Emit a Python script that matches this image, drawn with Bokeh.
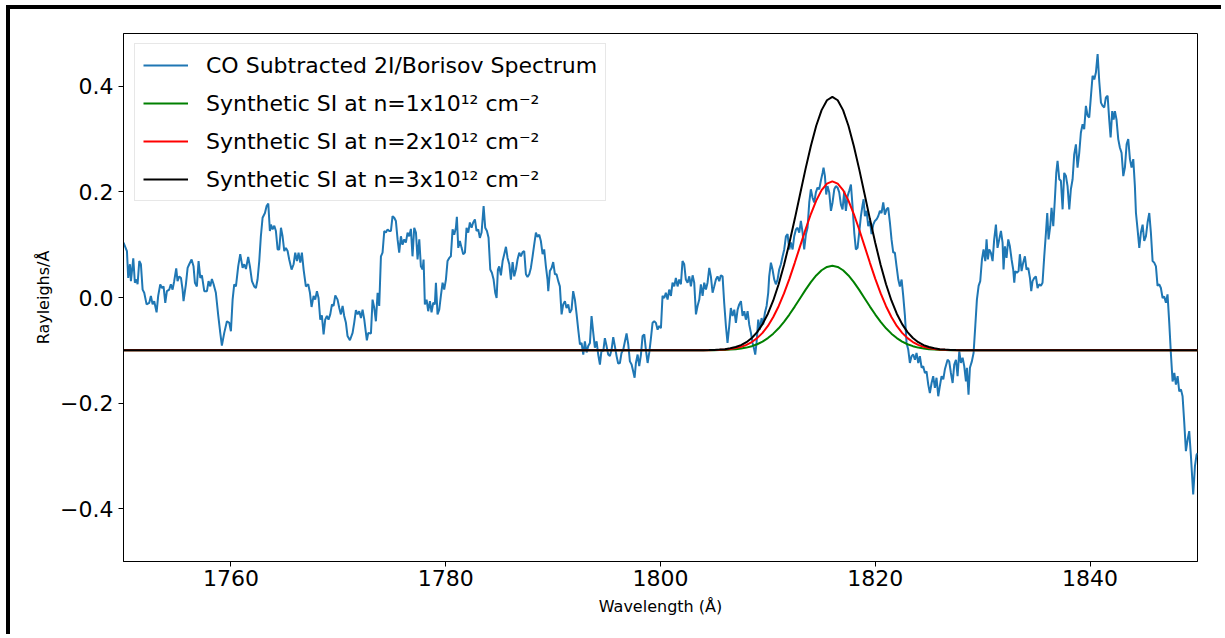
from bokeh.plotting import figure
from bokeh.embed import file_html
from bokeh.resources import INLINE
from bokeh.models import FixedTicker, CustomJSTickFormatter, Legend, LegendItem

# ---------------- data ----------------
wavelength = [
    1750.00, 1750.32, 1750.44, 1750.60, 1750.69, 1750.91, 1751.06, 1751.22, 1751.31, 1751.47,
    1751.62, 1751.78, 1751.93, 1752.15, 1752.40, 1752.55, 1752.71, 1752.86, 1753.08, 1753.23,
    1753.42, 1753.58, 1753.73, 1753.89, 1754.04, 1754.26, 1754.41, 1754.57, 1754.72, 1754.91,
    1755.03, 1755.19, 1755.35, 1755.50, 1755.59, 1755.81, 1755.97, 1756.12, 1756.34, 1756.52,
    1756.65, 1756.83, 1756.99, 1757.15, 1757.30, 1757.52, 1757.77, 1757.92, 1758.08, 1758.23,
    1758.39, 1758.60, 1758.82, 1759.01, 1759.16, 1759.38, 1759.63, 1759.85, 1760.00, 1760.16,
    1760.31, 1760.47, 1760.68, 1760.87, 1761.09, 1761.24, 1761.40, 1761.61, 1761.77, 1761.96,
    1762.17, 1762.33, 1762.48, 1762.64, 1762.79, 1762.95, 1763.17, 1763.32, 1763.48, 1763.63,
    1763.73, 1763.88, 1764.04, 1764.19, 1764.35, 1764.50, 1764.66, 1764.81, 1764.97, 1765.12,
    1765.28, 1765.43, 1765.65, 1765.84, 1765.99, 1766.15, 1766.30, 1766.46, 1766.61, 1766.77,
    1766.98, 1767.20, 1767.36, 1767.51, 1767.70, 1767.85, 1768.01, 1768.16, 1768.32, 1768.47,
    1768.63, 1768.78, 1768.94, 1769.09, 1769.25, 1769.41, 1769.56, 1769.72, 1769.93, 1770.09,
    1770.24, 1770.40, 1770.55, 1770.71, 1770.86, 1771.08, 1771.33, 1771.48, 1771.64, 1771.80,
    1771.95, 1772.11, 1772.26, 1772.42, 1772.57, 1772.66, 1772.79, 1773.04, 1773.19, 1773.35,
    1773.50, 1773.66, 1773.81, 1773.97, 1774.12, 1774.28, 1774.43, 1774.59, 1774.74, 1774.90,
    1775.05, 1775.21,
    1775.36, 1775.52, 1775.67, 1775.83, 1775.98, 1776.14, 1776.29, 1776.45, 1776.60, 1776.76,
    1776.91, 1777.07, 1777.23, 1777.38, 1777.54, 1777.69, 1777.85, 1777.94, 1778.06, 1778.22,
    1778.37, 1778.53, 1778.68, 1778.84, 1778.99, 1779.09, 1779.24, 1779.40, 1779.55, 1779.71,
    1779.86, 1780.02, 1780.17, 1780.33, 1780.48, 1780.64, 1780.79, 1780.95, 1781.04, 1781.17,
    1781.32, 1781.48, 1781.63, 1781.79, 1781.94, 1782.10, 1782.25, 1782.41, 1782.56, 1782.72,
    1782.87, 1783.03, 1783.18, 1783.34, 1783.53, 1783.68, 1783.84, 1783.99, 1784.15, 1784.30,
    1784.46, 1784.61, 1784.74, 1784.86, 1784.98, 1785.14, 1785.30, 1785.45, 1785.61, 1785.76,
    1785.92, 1786.07, 1786.23, 1786.38, 1786.54, 1786.69, 1786.85, 1787.00, 1787.16, 1787.31,
    1787.47, 1787.62, 1787.78, 1787.93, 1788.09, 1788.24, 1788.40, 1788.55, 1788.71, 1788.86,
    1789.02, 1789.17, 1789.33, 1789.48, 1789.55, 1789.70, 1789.86, 1790.01, 1790.17, 1790.32,
    1790.48, 1790.63, 1790.79, 1790.94, 1791.10, 1791.25, 1791.41, 1791.56, 1791.72, 1791.87,
    1792.03, 1792.19, 1792.34, 1792.50, 1792.65, 1792.81, 1792.96, 1793.12, 1793.27, 1793.43,
    1793.58, 1793.74, 1793.89, 1794.05, 1794.20, 1794.36, 1794.51, 1794.67, 1794.82, 1794.98,
    1795.13, 1795.29, 1795.44, 1795.60, 1795.75, 1795.91, 1796.06, 1796.22, 1796.37, 1796.53,
    1796.69, 1796.84, 1797.00, 1797.15, 1797.31, 1797.46, 1797.59, 1797.71, 1797.87, 1798.02,
    1798.18, 1798.33, 1798.49, 1798.64, 1798.80, 1798.95, 1799.11, 1799.26, 1799.42, 1799.57,
    1799.73, 1799.88, 1800.04, 1800.19, 1800.35, 1800.50, 1800.66, 1800.81, 1800.97,
    1801.12, 1801.28, 1801.43, 1801.59, 1801.74, 1801.90, 1802.05, 1802.21, 1802.36, 1802.52,
    1802.68, 1802.83, 1802.99, 1803.14, 1803.30, 1803.45, 1803.61, 1803.76, 1803.92, 1804.07,
    1804.23, 1804.38, 1804.54, 1804.69, 1804.85, 1805.00, 1805.16, 1805.31, 1805.47, 1805.62,
    1805.78, 1805.93, 1806.09, 1806.24, 1806.40, 1806.55, 1806.71, 1806.87, 1807.02, 1807.18,
    1807.33, 1807.49, 1807.64, 1807.80, 1807.95, 1808.11, 1808.26, 1808.42, 1808.57, 1808.73,
    1808.82, 1808.94, 1809.10, 1809.25, 1809.41, 1809.56, 1809.72, 1809.88, 1810.03, 1810.12,
    1810.28, 1810.43, 1810.59, 1810.74, 1810.90, 1811.05, 1811.21, 1811.37, 1811.52, 1811.68,
    1811.83, 1811.99, 1812.14, 1812.30, 1812.45, 1812.61, 1812.76, 1812.92, 1813.07, 1813.23,
    1813.38, 1813.54, 1813.69, 1813.85, 1814.00, 1814.16, 1814.31, 1814.47, 1814.62, 1814.78,
    1814.93, 1815.09, 1815.18, 1815.31, 1815.43, 1815.55, 1815.71, 1815.87, 1816.02, 1816.18,
    1816.33, 1816.49, 1816.64, 1816.80, 1816.95, 1817.11, 1817.26, 1817.42, 1817.57, 1817.73,
    1817.88, 1818.04, 1818.19, 1818.35, 1818.50, 1818.66, 1818.82, 1818.91, 1819.03, 1819.19,
    1819.34, 1819.50, 1819.65, 1819.81, 1819.96, 1820.12, 1820.27, 1820.43, 1820.58, 1820.74,
    1820.89, 1821.05, 1821.20, 1821.36, 1821.51, 1821.67, 1821.82, 1821.98, 1822.14, 1822.29,
    1822.45, 1822.60, 1822.76, 1822.91, 1823.07, 1823.22, 1823.38, 1823.53, 1823.69, 1823.84,
    1824.00, 1824.15, 1824.31, 1824.46, 1824.62, 1824.77, 1824.93, 1825.08, 1825.24, 1825.39,
    1825.55, 1825.70, 1825.86, 1826.01, 1826.17, 1826.33, 1826.48,
    1826.73, 1826.88, 1827.04, 1827.20, 1827.35, 1827.51, 1827.66, 1827.82, 1827.97, 1828.13,
    1828.28, 1828.44, 1828.53, 1828.68, 1828.81, 1828.99, 1829.15, 1829.31, 1829.46, 1829.62,
    1829.77, 1829.93, 1830.08, 1830.24, 1830.36, 1830.48, 1830.61, 1830.76, 1830.92, 1831.07,
    1831.23, 1831.38, 1831.54, 1831.70, 1831.85, 1831.94, 1832.07, 1832.22, 1832.38, 1832.53,
    1832.69, 1832.84, 1832.94, 1833.03, 1833.18, 1833.34, 1833.46, 1833.62, 1833.77, 1833.93,
    1834.08, 1834.24, 1834.40, 1834.52, 1834.64, 1834.80, 1834.95, 1835.11, 1835.26, 1835.42,
    1835.57, 1835.73, 1835.89, 1836.01, 1836.13, 1836.29, 1836.41, 1836.57, 1836.72, 1836.85,
    1836.97, 1837.13, 1837.28, 1837.44, 1837.59, 1837.75, 1837.90, 1838.06, 1838.21, 1838.37,
    1838.52, 1838.68, 1838.83, 1838.99, 1839.14, 1839.30, 1839.45, 1839.61, 1839.77, 1839.92,
    1840.08, 1840.23, 1840.39, 1840.54, 1840.70, 1840.85, 1841.01, 1841.16, 1841.32, 1841.47,
    1841.63, 1841.78, 1841.91, 1842.06, 1842.19, 1842.31, 1842.46, 1842.62, 1842.77, 1842.93,
    1843.09, 1843.24, 1843.40, 1843.55, 1843.71, 1843.86, 1844.02, 1844.17, 1844.27, 1844.42,
    1844.58, 1844.73, 1844.89, 1845.04, 1845.20, 1845.35, 1845.51, 1845.66, 1845.82, 1845.97,
    1846.13, 1846.28, 1846.44, 1846.59, 1846.75, 1846.90, 1847.06, 1847.21, 1847.37, 1847.52,
    1847.68, 1847.84, 1847.99, 1848.15, 1848.30, 1848.46, 1848.61, 1848.77, 1848.92, 1849.08,
    1849.23, 1849.39, 1849.48, 1849.60, 1849.76, 1849.91, 1850.01,
]

spectrum = [
    0.104, 0.088, 0.037, 0.063, 0.031, 0.074, 0.028, 0.034, 0.025, 0.069,
    0.063, 0.015, 0.009, -0.013, -0.010, 0.003, -0.013, -0.007, -0.028, 0.003,
    0.025, 0.018, 0.021, -0.010, 0.012, 0.015, 0.025, 0.015, 0.031, 0.055,
    0.031, 0.040, 0.037, 0.015, -0.007, 0.025, 0.056, 0.063, 0.072, 0.059,
    0.028, 0.021, 0.069, 0.037, 0.042, 0.012, 0.012, 0.031, 0.021, 0.035,
    0.025, 0.009, -0.034, -0.067, -0.091, -0.067, -0.045, -0.048, -0.064, -0.004,
    0.025, 0.021, 0.059, 0.082, 0.056, 0.063, 0.054, 0.077, 0.059, 0.031,
    0.021, 0.018, 0.034, 0.069, 0.116, 0.151, 0.160, 0.173, 0.178, 0.126,
    0.138, 0.129, 0.136, 0.126, 0.091, 0.091, 0.132, 0.116, 0.088, 0.094,
    0.088, 0.072, 0.053, 0.063, 0.085, 0.069, 0.085, 0.066, 0.085, 0.053,
    0.021, 0.025, 0.009, -0.018, 0.003, -0.004, 0.012, -0.001, -0.042, -0.034,
    -0.070, -0.042, -0.035, -0.042, -0.032, -0.013, -0.016, 0.004, -0.004, -0.020,
    -0.032, -0.016, -0.035, -0.048, -0.073, -0.081, -0.067, -0.048, -0.024, -0.032,
    -0.026, -0.039, -0.023, -0.042, -0.067, -0.081, -0.067, -0.068, -0.004, -0.020,
    -0.045, 0.009, -0.016, 0.078, 0.085, 0.126, 0.123, 0.129, 0.126, 0.126,
    0.154, 0.151,
    0.145, 0.110, 0.085, 0.116, 0.100, 0.110, 0.104, 0.123, 0.116, 0.130,
    0.078, 0.132, 0.123, 0.072, 0.110, 0.059, 0.053, 0.072, -0.013, -0.004,
    -0.026, -0.007, -0.028, -0.010, -0.013, 0.028, -0.032, -0.023, 0.003, 0.028,
    0.015, 0.034, 0.069, 0.075, 0.078, 0.129, 0.119, 0.132, 0.153, 0.094,
    0.107, 0.094, 0.082, 0.085, 0.132, 0.123, 0.142, 0.132, 0.142, 0.148,
    0.126, 0.129, 0.113, 0.123, 0.173, 0.132, 0.126, 0.113, 0.053, 0.047,
    0.034, 0.009, -0.001, 0.053, 0.059, 0.042, 0.069, 0.082, 0.096, 0.075,
    0.063, 0.034, 0.067, 0.040, 0.053, 0.072, 0.085, 0.078, 0.086, 0.088,
    0.044, 0.039, 0.044, 0.056, 0.078, 0.100, 0.123, 0.115, 0.119, 0.107,
    0.082, 0.091, 0.059, 0.034, 0.012, 0.050, 0.056, 0.067, 0.044, 0.044,
    0.031, 0.021, -0.032, -0.013, -0.007, -0.020, -0.013, -0.029, -0.023, 0.012,
    -0.004, -0.032, -0.061, -0.089, -0.086, -0.108, -0.083, -0.104, -0.092, -0.086,
    -0.035, -0.067, -0.095, -0.083, -0.108, -0.127, -0.099, -0.102, -0.077, -0.092,
    -0.108, -0.111, -0.099, -0.075, -0.092, -0.111, -0.125, -0.124, -0.105, -0.099,
    -0.083, -0.068, -0.089, -0.121, -0.127, -0.140, -0.152, -0.124, -0.108, -0.130,
    -0.108, -0.073, -0.070, -0.099, -0.124, -0.105, -0.077, -0.048, -0.045, -0.048,
    -0.061, -0.054, -0.058, 0.003, -0.001, 0.009, -0.004, 0.015, 0.003,
    0.028, 0.021, 0.037, 0.021, 0.034, 0.025, 0.069, 0.063, 0.034, 0.028,
    0.040, 0.021, 0.042, 0.028, -0.032, -0.016, -0.004, 0.025, 0.003, 0.028,
    0.015, 0.028, 0.056, 0.040, 0.009, 0.021, 0.034, 0.040, 0.031, 0.042,
    0.040, -0.010, -0.054, -0.086, -0.054, -0.020, -0.035, -0.023, -0.048, -0.023,
    -0.013, -0.007, -0.035, -0.026, -0.042, -0.026, -0.051, -0.067, -0.086, -0.099,
    -0.108, -0.086, -0.042, -0.061, -0.039, -0.051, -0.029, -0.016, 0.009, 0.040,
    0.066, 0.053, 0.034, 0.025, 0.034, 0.053, 0.063, 0.078, 0.091, 0.116,
    0.120, 0.091, 0.104, 0.091, 0.116, 0.129, 0.132, 0.123, 0.145, 0.123,
    0.091, 0.120, 0.132, 0.180, 0.205, 0.189, 0.180, 0.199, 0.208, 0.205,
    0.221, 0.236, 0.246, 0.230, 0.195, 0.211, 0.199, 0.164, 0.180, 0.205,
    0.211, 0.208, 0.199, 0.176, 0.167, 0.202, 0.164, 0.192, 0.202, 0.214,
    0.173, 0.123, 0.091, 0.094, 0.123, 0.154, 0.176, 0.186, 0.154, 0.164,
    0.135, 0.145, 0.120, 0.138, 0.145, 0.148, 0.154, 0.164, 0.160, 0.180,
    0.157, 0.167, 0.170, 0.142, 0.110, 0.085, 0.085, 0.059, 0.034, 0.021,
    0.034, 0.003, -0.035, -0.086, -0.099, -0.124, -0.111, -0.108, -0.118, -0.105,
    -0.124, -0.111, -0.133, -0.130, -0.143, -0.140, -0.165, -0.181, -0.162, -0.149,
    -0.171, -0.152, -0.187, -0.168, -0.149, -0.155, -0.136,
    -0.118, -0.121, -0.143, -0.162, -0.127, -0.118, -0.149, -0.102, -0.124, -0.114,
    -0.130, -0.159, -0.133, -0.184, -0.133, -0.121, -0.105, -0.054, -0.004, 0.022,
    0.031, 0.072, 0.091, 0.069, 0.110, 0.072, 0.091, 0.085, 0.069, 0.110,
    0.138, 0.094, 0.110, 0.126, 0.104, 0.053, 0.097, 0.075, 0.110, 0.097,
    0.072, 0.053, 0.028, 0.050, 0.047, 0.050, 0.082, 0.050, 0.066, 0.078,
    0.053, 0.056, 0.037, 0.012, 0.031, 0.037, 0.040, 0.018, 0.025, 0.022,
    0.028, 0.078, 0.123, 0.160, 0.110, 0.135, 0.170, 0.135, 0.186, 0.236,
    0.259, 0.224, 0.221, 0.167, 0.236, 0.230, 0.211, 0.167, 0.205, 0.224,
    0.271, 0.290, 0.246, 0.274, 0.312, 0.328, 0.319, 0.363, 0.344, 0.341,
    0.382, 0.420, 0.413, 0.426, 0.461, 0.410, 0.369, 0.363, 0.360, 0.379,
    0.382, 0.337, 0.303, 0.353, 0.337, 0.353, 0.337, 0.300, 0.284, 0.274,
    0.230, 0.246, 0.290, 0.300, 0.262, 0.246, 0.262, 0.211, 0.160, 0.129,
    0.094, 0.123, 0.138, 0.107, 0.116, 0.142, 0.160, 0.123, 0.069, 0.066,
    0.059, 0.022, 0.025, 0.018, -0.001, 0.002, -0.010, 0.006, -0.048, -0.105,
    -0.159, -0.143, -0.165, -0.149, -0.178, -0.174, -0.187, -0.238, -0.291, -0.269,
    -0.253, -0.301, -0.332, -0.373, -0.320, -0.298, -0.295,
]

# synthetic SI line profiles (baseline -0.1, centred near 1816 A)
synth_wavelength = [
    1750.0,
    1804.0, 1804.5, 1805.0, 1805.5, 1806.0, 1806.5, 1807.0, 1807.5, 1808.0, 1808.5,
    1809.0, 1809.5, 1810.0, 1810.5, 1811.0, 1811.5, 1812.0, 1812.5, 1813.0, 1813.5,
    1814.0, 1814.5, 1815.0, 1815.5, 1816.0, 1816.5, 1817.0, 1817.5, 1818.0, 1818.5,
    1819.0, 1819.5, 1820.0, 1820.5, 1821.0, 1821.5, 1822.0, 1822.5, 1823.0, 1823.5,
    1824.0, 1824.5, 1825.0, 1825.5, 1826.0, 1826.5, 1827.0, 1827.5, 1828.0,
    1850.0,
]
synth_n1 = [
    -0.1000,
    -0.0999, -0.0999, -0.0998, -0.0996, -0.0993, -0.0987, -0.0979, -0.0967, -0.0949, -0.0922,
    -0.0885, -0.0835, -0.0769, -0.0685, -0.0583, -0.0461, -0.0323, -0.0172, -0.0014, 0.0144,
    0.0290, 0.0418, 0.0516, 0.0579, 0.0600, 0.0579, 0.0516, 0.0418, 0.0290, 0.0144,
    -0.0014, -0.0172, -0.0323, -0.0461, -0.0583, -0.0685, -0.0769, -0.0835, -0.0885, -0.0922,
    -0.0949, -0.0967, -0.0979, -0.0987, -0.0993, -0.0996, -0.0998, -0.0999, -0.0999,
    -0.1000,
]
synth_n2 = [
    -0.1000,
    -0.0999, -0.0997, -0.0995, -0.0991, -0.0985, -0.0975, -0.0959, -0.0934, -0.0897, -0.0844,
    -0.0770, -0.0670, -0.0538, -0.0370, -0.0165, 0.0078, 0.0354, 0.0657, 0.0973, 0.1287,
    0.1581, 0.1835, 0.2033, 0.2157, 0.2200, 0.2157, 0.2033, 0.1835, 0.1581, 0.1287,
    0.0973, 0.0657, 0.0354, 0.0078, -0.0165, -0.0370, -0.0538, -0.0670, -0.0770, -0.0844,
    -0.0897, -0.0934, -0.0959, -0.0975, -0.0985, -0.0991, -0.0995, -0.0997, -0.0999,
    -0.1000,
]
synth_n3 = [
    -0.1000,
    -0.0998, -0.0996, -0.0993, -0.0987, -0.0978, -0.0962, -0.0938, -0.0901, -0.0846, -0.0767,
    -0.0655, -0.0505, -0.0307, -0.0056, 0.0252, 0.0616, 0.1031, 0.1485, 0.1959, 0.2431,
    0.2871, 0.3253, 0.3549, 0.3736, 0.3800, 0.3736, 0.3549, 0.3253, 0.2871, 0.2431,
    0.1959, 0.1485, 0.1031, 0.0616, 0.0252, -0.0056, -0.0307, -0.0505, -0.0655, -0.0767,
    -0.0846, -0.0901, -0.0938, -0.0962, -0.0978, -0.0987, -0.0993, -0.0996, -0.0998,
    -0.1000,
]

x_ticks = [1760, 1780, 1800, 1820, 1840]
y_ticks = [-0.4, -0.2, 0.0, 0.2, 0.4]

labels = [
    "CO Subtracted 2I/Borisov Spectrum",
    "Synthetic SI at n=1x10\u00b9\u00b2 cm\u207b\u00b2",
    "Synthetic SI at n=2x10\u00b9\u00b2 cm\u207b\u00b2",
    "Synthetic SI at n=3x10\u00b9\u00b2 cm\u207b\u00b2",
]

# ---------------- figure ----------------
FONT = "DejaVu Sans"
p = figure(
    width=1215, height=629,
    x_range=(1750, 1850), y_range=(-0.5, 0.5),
    output_backend="svg", toolbar_location=None,
    min_border_left=113, min_border_right=28,
    min_border_top=24, min_border_bottom=77,
    background_fill_color="white", border_fill_color="white",
)
p.styles = {
    "border-left": "4px solid black",
    "border-top": "4px solid black",
    "margin-left": "6px",
    "margin-top": "5px",
}
p.grid.visible = False
p.outline_line_color = "black"
p.outline_line_width = 1

r_spec = p.line(wavelength, spectrum, line_color="#1f77b4", line_width=2)
r_n1 = p.line(synth_wavelength, synth_n1, line_color="green", line_width=2)
r_n2 = p.line(synth_wavelength, synth_n2, line_color="red", line_width=2)
r_n3 = p.line(synth_wavelength, synth_n3, line_color="black", line_width=2)

for ax in (p.xaxis[0], p.yaxis[0]):
    ax.axis_line_color = "black"
    ax.major_tick_line_color = "black"
    ax.major_tick_out = 5
    ax.major_tick_in = 0
    ax.minor_tick_line_color = None
    ax.major_label_text_font = FONT
    ax.major_label_text_font_size = "22px"
    ax.major_label_text_color = "black"
    ax.axis_label_text_font = FONT
    ax.axis_label_text_font_size = "16px"
    ax.axis_label_text_font_style = "normal"
    ax.axis_label_text_color = "black"

p.xaxis.ticker = FixedTicker(ticks=x_ticks)
p.yaxis.ticker = FixedTicker(ticks=y_ticks)
p.yaxis.formatter = CustomJSTickFormatter(
    code="return (tick < -1e-9 ? '\u2212' : '') + Math.abs(tick).toFixed(1);"
)
p.xaxis.major_label_standoff = 3
p.yaxis.major_label_standoff = 5
p.xaxis.axis_label = "Wavelength (\u00c5)"
p.yaxis.axis_label = "Rayleighs/\u00c5"
p.xaxis.axis_label_standoff = 8
p.yaxis.axis_label_standoff = 4

legend = Legend(
    items=[
        LegendItem(label=labels[0], renderers=[r_spec]),
        LegendItem(label=labels[1], renderers=[r_n1]),
        LegendItem(label=labels[2], renderers=[r_n2]),
        LegendItem(label=labels[3], renderers=[r_n3]),
    ],
    location=(11, 360),
    padding=8,
    spacing=12,
    glyph_width=45,
    glyph_height=26,
    label_height=26,
    label_standoff=18,
    label_text_font=FONT,
    label_text_font_size="22px",
    label_text_color="black",
    border_line_color="#d0d0d0",
    border_line_width=1,
    background_fill_color="white",
    background_fill_alpha=0.8,
)
p.add_layout(legend, "center")

open("out.html", "w").write(file_html(p, INLINE))
